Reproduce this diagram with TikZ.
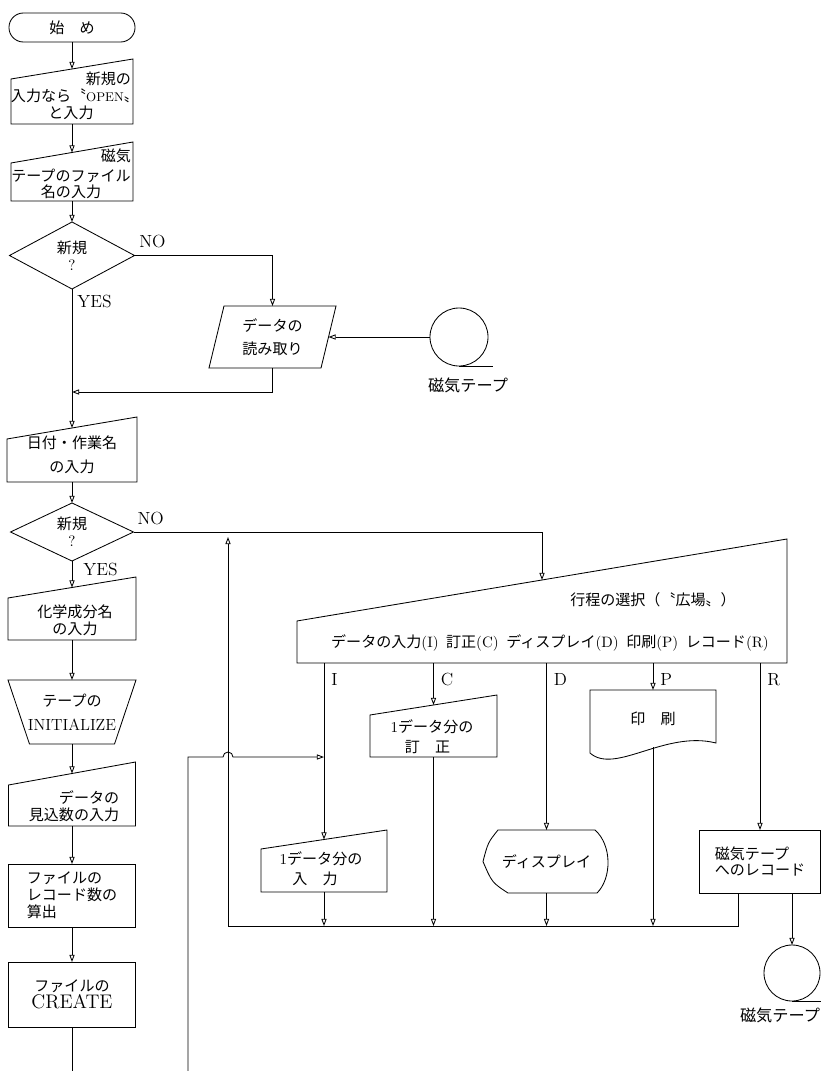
\documentclass[tikz,border=0pt]{standalone}
\usepackage{fontspec}
\newfontfamily\jp{Noto Sans CJK JP}
\usetikzlibrary{arrows.meta,shapes.geometric,calc}
\newcommand{\en}[1]{{\rmfamily #1}}

\begin{document}
\begin{tikzpicture}[
    x=0.025cm, y=-0.025cm, line width=0.6pt,
    txt/.style={font=\jp\fontsize{10.7pt}{12pt}\selectfont, inner sep=0pt, outer sep=0pt, align=center},
    lbl/.style={font=\fontsize{12.5pt}{15pt}\selectfont, inner sep=0pt},
    branch/.style={lbl, at start, anchor=north west, xshift=1.75mm, yshift=-2.5mm},
    arrow/.style={-{Triangle[open, length=1.8mm, width=1.3mm]}},
    drawshape/.style={append after command={\pgfextra{\edef\curnode{\tikzlastnode}%
        \pgfinterruptpath\draw #1;\endpgfinterruptpath}}},
    terminal/.style={txt, draw, rounded corners=0.36cm, minimum width=3.15cm, minimum height=0.725cm},
    decision/.style={txt, draw, diamond, aspect=2},
    process/.style={txt, draw, minimum width=3.175cm},
    manual/.style={txt, drawshape={($(\curnode.north west)+(0,#1)$) -- (\curnode.north east)
        -- (\curnode.south east) -- (\curnode.south west) -- cycle}},
    io/.style={txt, drawshape={($(\curnode.north west)+(#1,0)$) -- (\curnode.north east)
        -- ($(\curnode.south east)+(-#1,0)$) -- (\curnode.south west) -- cycle}},
    manop/.style={txt, drawshape={(\curnode.north west) -- (\curnode.north east)
        -- ($(\curnode.south east)+(-#1,0)$) -- ($(\curnode.south west)+(#1,0)$) -- cycle}},
    screen/.style={txt, drawshape={($(\curnode.north west)+(15,0)$) -- ($(\curnode.north east)+(-15,0)$)
        .. controls ($(\curnode.north east)+(2,15)$) and ($(\curnode.south east)+(2,-15)$) .. ($(\curnode.south east)+(-13,0)$)
        -- ($(\curnode.south west)+(25,0)$) .. controls ($(\curnode.west)+(9,21)$) .. (\curnode.west)
        .. controls ($(\curnode.west)+(5,-19)$) .. ($(\curnode.north west)+(15,0)$) -- cycle}},
    printout/.style={txt, drawshape={($(\curnode.south west)+(0,6)$) -- (\curnode.north west) -- (\curnode.north east)
        -- ($(\curnode.south east)+(0,-4)$) .. controls ($(\curnode.south east)+(-51,-17)$) and ($(\curnode.south west)+(25,28)$)
        .. ($(\curnode.south west)+(0,6)$) -- cycle}},
    tape/.style={draw, circle, inner sep=0pt, outer sep=0pt, drawshape={(\curnode.south) -- ++(#1,0)}},
    tapename/.style={txt, font=\jp\fontsize{11.5pt}{13pt}\selectfont}
]
\path[use as bounding box, fill=white] (0,0) rectangle (821,1071);

\node[terminal] (start) at (72,27.5) {始　め};
\node[manual=20, minimum width=3.05cm, minimum height=1.625cm] (open) at (72,91.5) {};
\node[txt, text width=3cm] (open-t) at (71,96) {\hspace*{\fill}新規の\\入力なら〝\en{\small OPEN}〟\\と入力};
\node[manual=21, minimum width=3.05cm, minimum height=1.475cm] (fname) at (72,171.5) {};
\node[txt, text width=3cm] (fname-t) at (71,174) {\hspace*{\fill}磁気\\[2pt]テープのファイル\\名の入力\hspace*{\fill}};
\node[decision, minimum width=3.125cm, minimum height=1.675cm] (dia1) at (72,255.5) {新規\\\en{?}};
\node[io=15, minimum width=3.175cm, minimum height=1.55cm] (read) at (272.5,337) {データの\\[4pt]読み取り};
\node[tape=34, minimum size=1.45cm] (tape1) at (459,337) {};
\node[tapename] (tape1-l) at (468,385) {磁気テープ};
\coordinate (j1) at (72,392);
\node[manual=22, minimum width=3.25cm, minimum height=1.625cm] (date) at (72,449.5) {};
\node[txt] (date-t) at (72,455) {日付・作業名\\[5pt]の入力};
\node[decision, minimum width=3.075cm, minimum height=1.45cm] (dia2) at (72,532) {新規\\\en{?}};
\node[manual=21, minimum width=3.2cm, minimum height=1.575cm] (chem) at (72,608.5) {};
\node[txt] (chem-t) at (75,620) {化学成分名\\の入力};
\node[manop=21.5, minimum width=3.2cm, minimum height=1.6cm] (init) at (72,712) {テープの\\[5pt]{\rmfamily\fontsize{11.5pt}{13pt}\selectfont INITIALIZE}};
\node[manual=23, minimum width=3.175cm, minimum height=1.6cm] (est) at (72,794) {};
\node[txt, align=right] (est-t) at (74,806) {データの\\見込数の入力};
\node[process, align=left, minimum height=1.575cm] (calc) at (72,895.5) {ファイルの\\レコード数の\\算出};
\node[process, minimum height=1.625cm] (create) at (72,994.5) {ファイルの\\{\rmfamily\fontsize{14pt}{16pt}\selectfont CREATE}};

\node[manual=82, minimum width=12.25cm, minimum height=3.1cm] (sel) at (542,601) {};
\node[txt] (sel-t1) at (653,600) {行程の選択（〝広場〟）};
\node[txt] (sel-t2) at (550,643) {データの入力\en{(I)}\enspace 訂正\en{(C)}\enspace ディスプレイ\en{(D)}\enspace 印刷\en{(P)}\enspace レコード\en{(R)}};
\node[manual=20, minimum width=3.175cm, minimum height=1.55cm] (corr) at (433.5,726) {};
\node[txt] (corr-t) at (432,737) {\en{1}データ分の\\[2pt]訂　正\hspace*{0.6em}};
\node[printout, minimum width=3.15cm, minimum height=1.425cm] (prn) at (653,718.5) {印　刷};
\node[manual=19, minimum width=3.15cm, minimum height=1.55cm] (inp) at (324,861) {};
\node[txt] (inp-t) at (321,869) {\en{1}データ分の\\[2pt]入　力\hspace*{0.8em}};
\node[screen, minimum width=3.175cm, minimum height=1.575cm] (disp) at (546.5,861.5) {ディスプレイ};
\node[process, align=left, minimum width=3.025cm, minimum height=1.575cm] (rec) at (760,861.5) {磁気テープ\\へのレコード};
\node[tape=30, minimum size=1.4cm] (tape2) at (792,973) {};
\node[tapename] (tape2-l) at (780,1015) {磁気テープ};
\coordinate (back) at (228,926);
\coordinate (exit1) at (72,1071);
\coordinate (exit2) at (188,1071);

\draw[arrow] (start) -- ($(open.north)+(0,10)$);
\draw[arrow] (open) -- ($(fname.north)+(0,10.5)$);
\draw[arrow] (fname) -- (dia1);
\draw[arrow] (dia1) -- node[lbl, at start, anchor=north west, xshift=1.25mm, yshift=-1.5mm]{YES} ($(date.north)+(0,11)$);
\draw[arrow] (dia1) -| node[lbl, at start, anchor=south west, xshift=1.1mm, yshift=1.9mm]{NO} (read);
\draw[arrow] (tape1) -- ($(read.east)+(-7.5,0)$);
\draw[arrow] (read) |- (j1);
\draw[arrow] (date) -- (dia2);
\draw[arrow] (dia2) -- node[lbl, at start, anchor=north west, xshift=2.75mm, yshift=-0.5mm]{YES} ($(chem.north)+(0,10.5)$);
\draw[arrow] (dia2) -| node[lbl, at start, anchor=south west, xshift=0.9mm, yshift=1.75mm]{NO} ($(sel.north)+(0,41)$);
\draw[arrow] (chem) -- (init);
\draw[arrow] (init) -- ($(est.north)+(0,11.5)$);
\draw[arrow] (est) -- (calc);
\draw[arrow] (calc) -- (create);
\draw (create) -- (exit1);

\draw[arrow] (sel.south -| inp.north) -- node[branch]{I} ($(inp.north)+(0,9.5)$);
\draw[arrow] (sel.south -| corr.north) -- node[branch]{C} ($(corr.north)+(0,10)$);
\draw[arrow] (sel.south -| disp.north) -- node[branch]{D} (disp);
\draw[arrow] (sel.south -| prn.north) -- node[branch]{P} (prn);
\draw[arrow] (sel.south -| rec.north) -- node[branch]{R} (rec);
\draw[arrow] (rec.south -| tape2) -- (tape2);

\draw[arrow] (inp) -- (inp |- back);
\draw[arrow] (corr) -- (corr |- back);
\draw[arrow] (disp) -- (disp |- back);
\draw[arrow] (prn) -- (prn |- back);
\draw[arrow] ($(rec.south)+(-22,0)$) |- (back) -- ($(back |- dia2.east)+(0,5)$);
\draw[arrow] (exit2) |- ($(back |- corr.south)+(-5,0)$) arc[start angle=180, end angle=0, radius=0.125cm] -- (corr.south -| inp.north);
\end{tikzpicture}
\end{document}
